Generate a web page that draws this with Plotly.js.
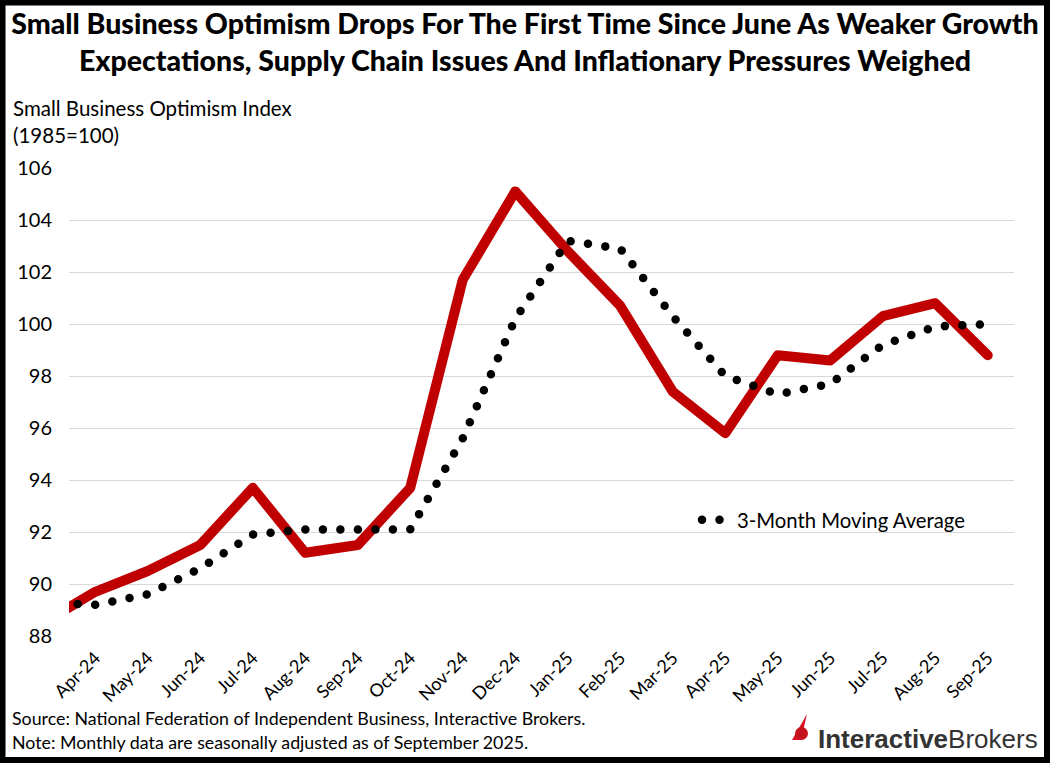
<!DOCTYPE html>
<html>
<head>
<meta charset="utf-8">
<script src="https://cdn.plot.ly/plotly-3.0.1.min.js"></script>
<style>
  html, body { margin: 0; padding: 0; background: #fff; }
  #chart { width: 1050px; height: 763px; }
  .js-line { stroke-linecap: round !important; stroke-linejoin: round !important; }
</style>
</head>
<body>
<div id="chart"></div>
<script>
// Months (Mar-24 sits just outside the visible range; the line enters from the left edge)
const months = ["Mar-24","Apr-24","May-24","Jun-24","Jul-24","Aug-24","Sep-24","Oct-24","Nov-24","Dec-24",
                "Jan-25","Feb-25","Mar-25","Apr-25","May-25","Jun-25","Jul-25","Aug-25","Sep-25"];
// Small Business Optimism Index (1985=100)
const optimism = [88.5, 89.7, 90.5, 91.5, 93.7, 91.2, 91.5, 93.7, 101.7, 105.1,
                  102.8, 100.7, 97.4, 95.8, 98.8, 98.6, 100.3, 100.8, 98.8];
// 3-Month Moving Average
const movingAvg = [89.3, 89.2, 89.6, 90.6, 91.9, 92.1, 92.1, 92.1, 95.6, 100.2,
                   103.2, 102.9, 100.3, 98.0, 97.3, 97.7, 99.2, 99.9, 100.0];
const yTicks = [88, 90, 92, 94, 96, 98, 100, 102, 104, 106];

const W = 1050, H = 763;
const M = { l: 69, r: 36, t: 168, b: 127 };
const PW = W - M.l - M.r, PH = H - M.t - M.b;
// page pixel -> paper fraction
const X = p => (p - M.l) / PW;
const Y = p => (H - M.b - p) / PH;

const traces = [
  {
    x: months, y: optimism, type: "scatter", mode: "lines",
    name: "Small Business Optimism Index",
    line: { color: "#C00000", width: 10 },
    showlegend: false
  },
  {
    x: months, y: movingAvg, type: "scatter", mode: "lines",
    name: "3-Month Moving Average",
    line: { color: "#000000", width: 8.5, dash: "0px,17.5px" },
    showlegend: true
  }
];

const layout = {
  width: W, height: H,
  paper_bgcolor: "#ffffff", plot_bgcolor: "#ffffff",
  margin: M,
  font: { family: "Lato, 'Open Sans', sans-serif", color: "#000" },
  title: {
    text: "Small Business Optimism Drops For The First Time Since June As Weaker Growth<br>Expectations, Supply Chain Issues And Inflationary Pressures Weighed",
    font: { family: "Lato, sans-serif", size: 28.5, color: "#000", weight: 900 },
    x: 0.5, xanchor: "center", xref: "container",
    y: 1 - 34 / H, yanchor: "middle", yref: "container"
  },
  xaxis: {
    type: "category",
    categoryorder: "array", categoryarray: months,
    range: [0.5, 18.5],
    showgrid: false, zeroline: false, showline: false,
    ticks: "", tickangle: -45,
    tickfont: { size: 18, color: "#000" },
    ticklabelstandoff: 7,
    fixedrange: true
  },
  yaxis: {
    range: [88, 106],
    tickvals: yTicks, ticktext: yTicks.map(String),
    showgrid: true, gridcolor: "#d9d9d9", gridwidth: 1,
    zeroline: false, showline: false, ticks: "",
    tickfont: { size: 20, color: "#000" },
    ticklabelstandoff: 16,
    fixedrange: true
  },
  legend: {
    x: X(697), y: Y(520), xref: "paper", yref: "paper",
    xanchor: "left", yanchor: "middle",
    bgcolor: "rgba(0,0,0,0)", borderwidth: 0,
    font: { size: 20.3, color: "#000" },
    tracegroupgap: 0, itemwidth: 30
  },
  annotations: [
    { text: "Small Business Optimism Index<br>(1985=100)", xref: "paper", yref: "paper",
      x: X(11), y: Y(94), xanchor: "left", yanchor: "top", align: "left",
      showarrow: false, font: { size: 20.5, color: "#000" } },
    { text: "Source: National Federation of Independent Business, Interactive Brokers.", xref: "paper", yref: "paper",
      x: X(10), y: Y(718), xanchor: "left", yanchor: "middle", align: "left",
      showarrow: false, font: { size: 17.8, color: "#000" } },
    { text: "Note: Monthly data are seasonally adjusted as of September 2025.", xref: "paper", yref: "paper",
      x: X(10), y: Y(742), xanchor: "left", yanchor: "middle", align: "left",
      showarrow: false, font: { size: 17.8, color: "#000" } },
    { text: "<b>Interactive</b>Brokers", xref: "paper", yref: "paper",
      x: X(1040), y: Y(739), xanchor: "right", yanchor: "middle", align: "right",
      showarrow: false, font: { family: "'Liberation Sans', Arial, sans-serif", size: 26, color: "#333333" } }
  ],
  shapes: [
    // logo mark
    { type: "path", xref: "paper", yref: "paper", layer: "above",
      path: `M ${X(792)} ${Y(740)} L ${X(807)} ${Y(714)} L ${X(801)} ${Y(740)} Z`,
      fillcolor: "#d81222", line: { width: 0 } },
    { type: "circle", xref: "paper", yref: "paper", layer: "above",
      x0: X(795), x1: X(808), y0: Y(740), y1: Y(727),
      fillcolor: "#c4121e", line: { width: 0 } },
    // outer frame
    { type: "rect", xref: "paper", yref: "paper", layer: "above",
      x0: X(2.5), x1: X(1047), y0: Y(760), y1: Y(2.5),
      line: { color: "#000", width: 6 }, fillcolor: "rgba(0,0,0,0)" }
  ]
};

Plotly.newPlot("chart", traces, layout, { displayModeBar: false, staticPlot: true });
</script>
</body>
</html>
